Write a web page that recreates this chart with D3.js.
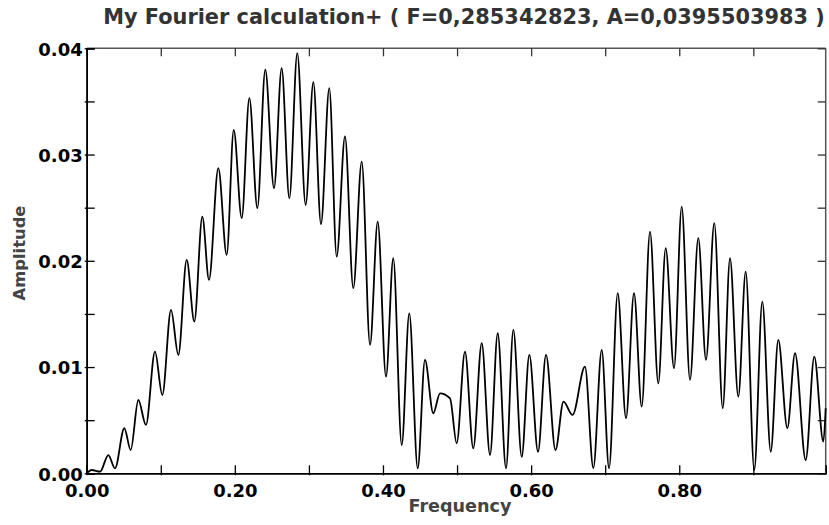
<!DOCTYPE html>
<html>
<head>
<meta charset="utf-8">
<script src="https://cdn.jsdelivr.net/npm/d3@7"></script>
<style>
  html, body { margin: 0; padding: 0; background: #fff; }
  svg { display: block; font-family: "DejaVu Sans", Verdana, sans-serif; }
</style>
</head>
<body>
<svg id="chart" width="829" height="525"></svg>
<script>
// ---- data (peaks and troughs of the spectrum) ----
const frequency = [
  0, 0.0067, 0.018, 0.0292, 0.0382, 0.0508, 0.0594, 0.0697, 0.080, 0.0922,
  0.1021, 0.1138, 0.1237, 0.135, 0.1453, 0.1561, 0.1651, 0.1777, 0.189, 0.1985,
  0.2093, 0.2196, 0.2304, 0.2411, 0.2529, 0.2632, 0.2736, 0.2843, 0.2956, 0.306,
  0.3163, 0.3275, 0.3375, 0.3487, 0.3599, 0.3713, 0.3825, 0.3929, 0.4041, 0.4139,
  0.4253, 0.4355, 0.4469, 0.4567, 0.4679, 0.477, 0.4905, 0.4995, 0.5107, 0.5219,
  0.5333, 0.5445, 0.5549, 0.5661, 0.576, 0.5873, 0.5976, 0.6093, 0.6201, 0.6329,
  0.6437, 0.6559, 0.6727, 0.684, 0.6953, 0.7052, 0.7169, 0.7281, 0.7389, 0.7493,
  0.7605, 0.7717, 0.7817, 0.7929, 0.8033, 0.8145, 0.8257, 0.8361, 0.8473, 0.8587,
  0.8685, 0.8797, 0.8897, 0.9013, 0.9121, 0.9235, 0.9337, 0.9459, 0.9563, 0.9707,
  0.9823, 0.9945, 0.9977
];
const amplitude = [
  0, 0.00031, 0.00015, 0.00172, 0.00047, 0.00424, 0.00219, 0.0069, 0.00455, 0.01145,
  0.00737, 0.01538, 0.01114, 0.02008, 0.01428, 0.02416, 0.0182, 0.02872, 0.02056, 0.03233,
  0.02401, 0.03531, 0.02495, 0.03798, 0.02684, 0.03814, 0.02589, 0.03955, 0.02526, 0.03682,
  0.02345, 0.03625, 0.0204, 0.0317, 0.01742, 0.02934, 0.01208, 0.02369, 0.0091, 0.02024,
  0.00266, 0.01506, 0.00047, 0.01067, 0.00565, 0.00753, 0.00706, 0.00282, 0.01145, 0.00235,
  0.01224, 0.00172, 0.01318, 0.00047, 0.01349, 0.00156, 0.01114, 0.00203, 0.01114, 0.00219,
  0.00674, 0.00549, 0.01004, 0.0005, 0.01161, 0.00047, 0.01695, 0.00518, 0.01695, 0.00627,
  0.02275, 0.00847, 0.02119, 0.00989, 0.0251, 0.00879, 0.02213, 0.01067, 0.02354, 0.00612,
  0.02024, 0.00721, 0.01898, 0.0003, 0.01616, 0.00203, 0.01255, 0.00424, 0.0113, 0.00125,
  0.01098, 0.00298, 0.00612
];
const yMajorTicks = [0, 0.01, 0.02, 0.03, 0.04];
const yMinorTicks = [0.005, 0.015, 0.025, 0.035];
const xMajorTicks = [0, 0.2, 0.4, 0.6, 0.8];
const xAllTicks = [0, 0.1, 0.2, 0.3, 0.4, 0.5, 0.6, 0.7, 0.8, 0.9];
const titleText = "My Fourier calculation+ ( F=0,285342823, A=0,0395503983 )";
const xTitle = "Frequency";
const yTitle = "Amplitude";

// ---- layout ----
const svg = d3.select("#chart");
const m = { left: 86.7, top: 48.3, right: 825.7, bottom: 473.3 };
const x = d3.scaleLinear().domain([0, 0.9977]).range([m.left, m.right]);
const y = d3.scaleLinear().domain([0, 0.04]).range([m.bottom, m.top]);

const points = frequency.map((f, i) => [f, amplitude[i]]);

// frame: top & right (gray)
svg.append("line").attr("x1", m.left).attr("x2", m.right).attr("y1", m.top).attr("y2", m.top)
  .attr("stroke", "#555").attr("stroke-width", 1.5);
svg.append("line").attr("x1", m.right).attr("x2", m.right).attr("y1", m.top).attr("y2", m.bottom)
  .attr("stroke", "#555").attr("stroke-width", 1.5);

// top ticks
const topAxis = svg.append("g").attr("transform", `translate(0,${m.top})`)
  .call(d3.axisTop(x).tickValues(xAllTicks).tickSize(-8).tickFormat(""));
// right ticks
const rightAxis = svg.append("g").attr("transform", `translate(${m.right},0)`)
  .call(d3.axisRight(y).tickValues(yMajorTicks.concat(yMinorTicks)).tickSize(-8).tickFormat(""));
[topAxis, rightAxis].forEach(g => {
  g.select(".domain").remove();
  g.selectAll("line").attr("stroke", "#333").attr("stroke-width", 1.3);
});

// data line
svg.append("path")
  .datum(points)
  .attr("fill", "none")
  .attr("stroke", "#000")
  .attr("stroke-width", 1.8)
  .attr("stroke-linejoin", "round")
  .attr("d", d3.line().x(d => x(d[0])).y(d => y(d[1])).curve(d3.curveMonotoneX));

// left axis
const leftAxis = svg.append("g").attr("transform", `translate(${m.left},0)`)
  .call(d3.axisLeft(y).tickValues(yMajorTicks).tickSize(-8).tickPadding(4).tickFormat(d3.format(".2f")));
const leftMinor = svg.append("g").attr("transform", `translate(${m.left},0)`)
  .call(d3.axisLeft(y).tickValues(yMinorTicks).tickSize(-8).tickFormat(""));
// bottom axis
const bottomMinor = svg.append("g").attr("transform", `translate(0,${m.bottom})`)
  .call(d3.axisBottom(x).tickValues(xAllTicks).tickSize(-8).tickFormat(""));
const bottomAxis = svg.append("g").attr("transform", `translate(0,${m.bottom})`)
  .call(d3.axisBottom(x).tickValues(xMajorTicks).tickSize(0).tickPadding(11).tickFormat(d3.format(".2f")));

[leftAxis, leftMinor, bottomMinor, bottomAxis].forEach(g => {
  g.select(".domain").attr("stroke", "#000").attr("stroke-width", 1.6);
  g.selectAll(".tick line").attr("stroke", "#000").attr("stroke-width", 1.3);
  g.selectAll("text").attr("fill", "#000").attr("font-size", 18).attr("font-weight", "bold")
    .attr("font-family", "'DejaVu Sans', Verdana, sans-serif");
});
leftAxis.selectAll(".tick line").attr("x1", -2);
leftMinor.selectAll(".tick line").attr("x1", -2);
bottomMinor.selectAll(".tick line").attr("y1", 2);
leftAxis.selectAll("text").attr("dy", "0.38em");
bottomAxis.selectAll("text").attr("dy", "0.72em");

// helper: fit text to a width
function fit(sel, target) {
  const fs = +sel.attr("font-size");
  const w = sel.node().getComputedTextLength();
  if (w > 0) sel.attr("font-size", (fs * target / w).toFixed(2));
}

// title
const t = svg.append("text").attr("x", 464).attr("y", 24).attr("text-anchor", "middle")
  .attr("font-size", 16).attr("font-weight", "bold").attr("fill", "#333").text(titleText);
fit(t, 722);

// axis titles
const xt = svg.append("text").attr("x", 460).attr("y", 512).attr("text-anchor", "middle")
  .attr("font-size", 14).attr("font-weight", "bold").attr("fill", "#444").text(xTitle);
fit(xt, 103);
const yt = svg.append("text").attr("transform", "translate(25,253) rotate(-90)")
  .attr("text-anchor", "middle").attr("font-size", 14).attr("font-weight", "bold")
  .attr("fill", "#444").text(yTitle);
fit(yt, 95);
</script>
</body>
</html>
